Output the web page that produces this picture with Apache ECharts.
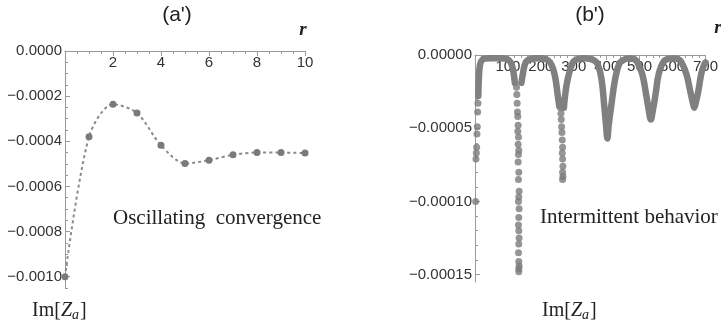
<!DOCTYPE html>
<html><head><meta charset="utf-8">
<script src="https://cdn.jsdelivr.net/npm/echarts@6/dist/echarts.min.js"></script>
<style>html,body{margin:0;padding:0;background:#fff}#c{width:721px;height:327px}</style>
</head><body><div id="c"></div>
<script>
// ---- panel (a'): oscillating convergence ----
const rA  = [0, 1, 2, 3, 4, 5, 6, 7, 8, 9, 10];
const imA = [-0.00100, -0.00038, -0.000236, -0.000275, -0.000418, -0.000498, -0.000484, -0.00046, -0.00045, -0.00045, -0.000452];
const ticksAX = [2, 4, 6, 8, 10];
const ticksAY = [0, -0.0002, -0.0004, -0.0006, -0.0008, -0.0010];

// ---- panel (b'): intermittent behavior ----
const ticksBX = [100, 200, 300, 400, 500, 600, 700];
const ticksBY = [0, -0.00005, -0.00010, -0.00015];
// dense stretches (points packed into a thick band)
const rBand1  = [10, 12, 15, 20, 30, 50, 80, 95, 105, 112, 117, 121];
const imBand1 = [-2.8e-5, -1.5e-5, -7e-6, -3.8e-6, -2.4e-6, -2.2e-6, -2.2e-6, -2.6e-6, -4e-6, -7e-6, -1.2e-5, -1.9e-5];
const rBand2  = [141, 146, 152, 160, 175, 195, 215, 228, 238, 245, 251, 256];
const imBand2 = [-1.9e-5, -1.2e-5, -6e-6, -3.5e-6, -2.4e-6, -2.3e-6, -2.8e-6, -5e-6, -1e-5, -1.7e-5, -2.7e-5, -3.5e-5];
const rBand3  = [270, 274, 282, 297, 310, 330, 348, 362, 372, 384, 393, 398, 402, 406, 413, 426, 438, 450, 465, 480, 492, 508, 519, 528, 534, 540, 549, 558, 573, 590, 607, 618, 627, 642, 654, 661, 666, 671, 678, 687, 695, 700];
const imBand3 = [-3.6e-5, -2.7e-5, -1.6e-5, -5e-6, -3e-6, -2.3e-6, -2.5e-6, -3.8e-6, -6e-6, -1.6e-5, -3.6e-5, -4.8e-5, -5.7e-5, -4.8e-5, -3.6e-5, -1.6e-5, -6e-6, -3.5e-6, -2.4e-6, -2.6e-6, -4.5e-6, -1.3e-5, -2.6e-5, -3.8e-5, -4.4e-5, -3.8e-5, -2.6e-5, -1.3e-5, -4.5e-6, -2.6e-6, -2.4e-6, -3e-6, -5e-6, -1.3e-5, -2.5e-5, -3.2e-5, -3.6e-5, -3.2e-5, -2.5e-5, -1.3e-5, -7e-6, -5e-6];
// sparse points on the steep parts
const rDots  = [9, 8, 7, 6, 5, 4, 3, 2,
  126, 127, 128, 129, 130, 131, 130, 132, 131, 133, 132, 131, 133, 132, 134, 133, 132, 134, 133, 132, 133, 134, 133, 132, 133, 134, 133, 133,
  260, 261, 262, 263, 264, 265, 266, 265, 266, 267, 266, 267, 266, 267];
const imDots = [-3.3e-5, -3.9e-5, -4.9e-5, -5.4e-5, -6.3e-5, -6.7e-5, -7.1e-5, -1.0e-4,
  -2.2e-5, -2.7e-5, -3.3e-5, -3.9e-5, -4.2e-5, -4.8e-5, -5.2e-5, -5.6e-5, -6.1e-5, -6.5e-5, -6.8e-5, -7.3e-5, -8.0e-5, -8.5e-5, -9.3e-5, -9.7e-5, -1.0e-4, -1.05e-4, -1.11e-4, -1.16e-4, -1.2e-4, -1.25e-4, -1.29e-4, -1.35e-4, -1.41e-4, -1.44e-4, -1.46e-4, -1.48e-4,
  -3.6e-5, -4.0e-5, -4.4e-5, -4.9e-5, -5.3e-5, -5.8e-5, -6.3e-5, -6.7e-5, -7.1e-5, -7.6e-5, -8.0e-5, -8.3e-5, -8.5e-5, -3.1e-5];

const AX = '#9a9a9a';
const SANS = 'Liberation Sans';
const SERIF = 'Liberation Serif';
function range(a, b, s) { const o = []; for (let i = 0; ; i++) { const v = a + i * s; if (v > b + s * 1e-6) break; o.push(+v.toPrecision(10)); } return o; }
const minus = (v, d) => (v < -1e-15 ? '\u2212' : '') + Math.abs(v).toFixed(d);
const zip = (xs, ys) => xs.map((x, i) => [x, ys[i]]);

function majorX(grid, min, max, ticks, labels) {
  return { gridIndex: grid, type: 'value', min, max, position: 'top',
    axisLine: { onZero: false, lineStyle: { color: AX, width: 1 } },
    axisTick: { inside: true, length: 5, customValues: ticks, lineStyle: { color: AX } },
    axisLabel: { inside: true, customValues: labels, margin: 4, color: '#333', fontSize: 15, fontFamily: SANS },
    splitLine: { show: false } };
}
function minorX(grid, min, max, ticks) {
  return { gridIndex: grid, type: 'value', min, max, position: 'top',
    axisLine: { show: false }, axisLabel: { show: false }, splitLine: { show: false },
    axisTick: { inside: true, length: 3, customValues: ticks, lineStyle: { color: AX } } };
}
function majorY(grid, min, max, ticks, d) {
  return { gridIndex: grid, type: 'value', min, max, position: 'left',
    axisLine: { onZero: false, lineStyle: { color: AX, width: 1 } },
    axisTick: { inside: true, length: 5, customValues: ticks, lineStyle: { color: AX } },
    axisLabel: { customValues: ticks, margin: 3, color: '#333', fontSize: 15, fontFamily: SANS, formatter: v => minus(v, d) },
    splitLine: { show: false } };
}
function minorY(grid, min, max, ticks) {
  return { gridIndex: grid, type: 'value', min, max, position: 'left',
    axisLine: { show: false }, axisLabel: { show: false }, splitLine: { show: false },
    axisTick: { inside: true, length: 3, customValues: ticks, lineStyle: { color: AX } } };
}

const yMinA = -0.00105, yMinB = -0.000155;
const option = {
  animation: false,
  backgroundColor: '#fff',
  grid: [
    { left: 65, top: 51, width: 240, height: 237 },
    { left: 475, top: 55, width: 232, height: 227 }
  ],
  xAxis: [
    majorX(0, 0, 10, [0].concat(ticksAX), ticksAX),
    minorX(0, 0, 10, range(0, 10, 0.5)),
    majorX(1, 0, 700, [0].concat(ticksBX), ticksBX),
    minorX(1, 0, 700, range(0, 700, 20))
  ],
  yAxis: [
    majorY(0, yMinA, 0, ticksAY, 4),
    minorY(0, yMinA, 0, range(-0.00105, 0, 0.00005)),
    majorY(1, yMinB, 0, ticksBY, 5),
    minorY(1, yMinB, 0, range(-0.00015, 0, 0.00001))
  ],
  series: [
    { type: 'line', xAxisIndex: 0, yAxisIndex: 0, data: zip(rA, imA), smooth: 0.3,
      symbol: 'circle', symbolSize: 7, itemStyle: { color: '#7a7a7a' },
      lineStyle: { color: '#8a8a8a', width: 2, type: [3, 3] } },
    ...[[rBand1, imBand1], [rBand2, imBand2], [rBand3, imBand3]].map(([r, v]) => ({
      type: 'line', xAxisIndex: 2, yAxisIndex: 2, data: zip(r, v), smooth: 0.4, showSymbol: false,
      lineStyle: { color: '#808080', width: 6.5, cap: 'round', join: 'round' } })),
    { type: 'scatter', xAxisIndex: 2, yAxisIndex: 2, data: zip(rDots, imDots), symbolSize: 7,
      itemStyle: { color: '#7a7a7a' } }
  ],
  graphic: [
    { type: 'text', x: 177, y: 15, style: { text: "(a')", font: '21px ' + SANS, fill: '#222', textAlign: 'center', textVerticalAlign: 'middle' } },
    { type: 'text', x: 590, y: 15, style: { text: "(b')", font: '21px ' + SANS, fill: '#222', textAlign: 'center', textVerticalAlign: 'middle' } },
    { type: 'text', x: 303, y: 30, style: { text: 'r', font: 'italic bold 19px ' + SERIF, fill: '#222', textAlign: 'center', textVerticalAlign: 'middle' } },
    { type: 'text', x: 718, y: 28, style: { text: 'r', font: 'italic bold 19px ' + SERIF, fill: '#222', textAlign: 'center', textVerticalAlign: 'middle' } },
    { type: 'text', x: 113, y: 218, style: { text: 'Oscillating  convergence', font: '21px ' + SERIF, fill: '#222', textAlign: 'left', textVerticalAlign: 'middle' } },
    { type: 'text', x: 540, y: 217, style: { text: 'Intermittent behavior', font: '21px ' + SERIF, fill: '#222', textAlign: 'left', textVerticalAlign: 'middle' } },
    ...[32, 542].map(x => ({ type: 'text', x, y: 311, style: {
      text: '{n|Im[}{z|Z}{s|a}{n|]}', textAlign: 'left', textVerticalAlign: 'middle',
      rich: {
        n: { font: '20px ' + SERIF, fill: '#222' },
        z: { font: 'italic 20px ' + SERIF, fill: '#222' },
        s: { font: 'italic 14px ' + SERIF, fill: '#222', padding: [8, 1, 0, 0] }
      } } }))
  ]
};
const chart = echarts.init(document.getElementById('c'));
chart.setOption(option);
</script>
</body></html>
